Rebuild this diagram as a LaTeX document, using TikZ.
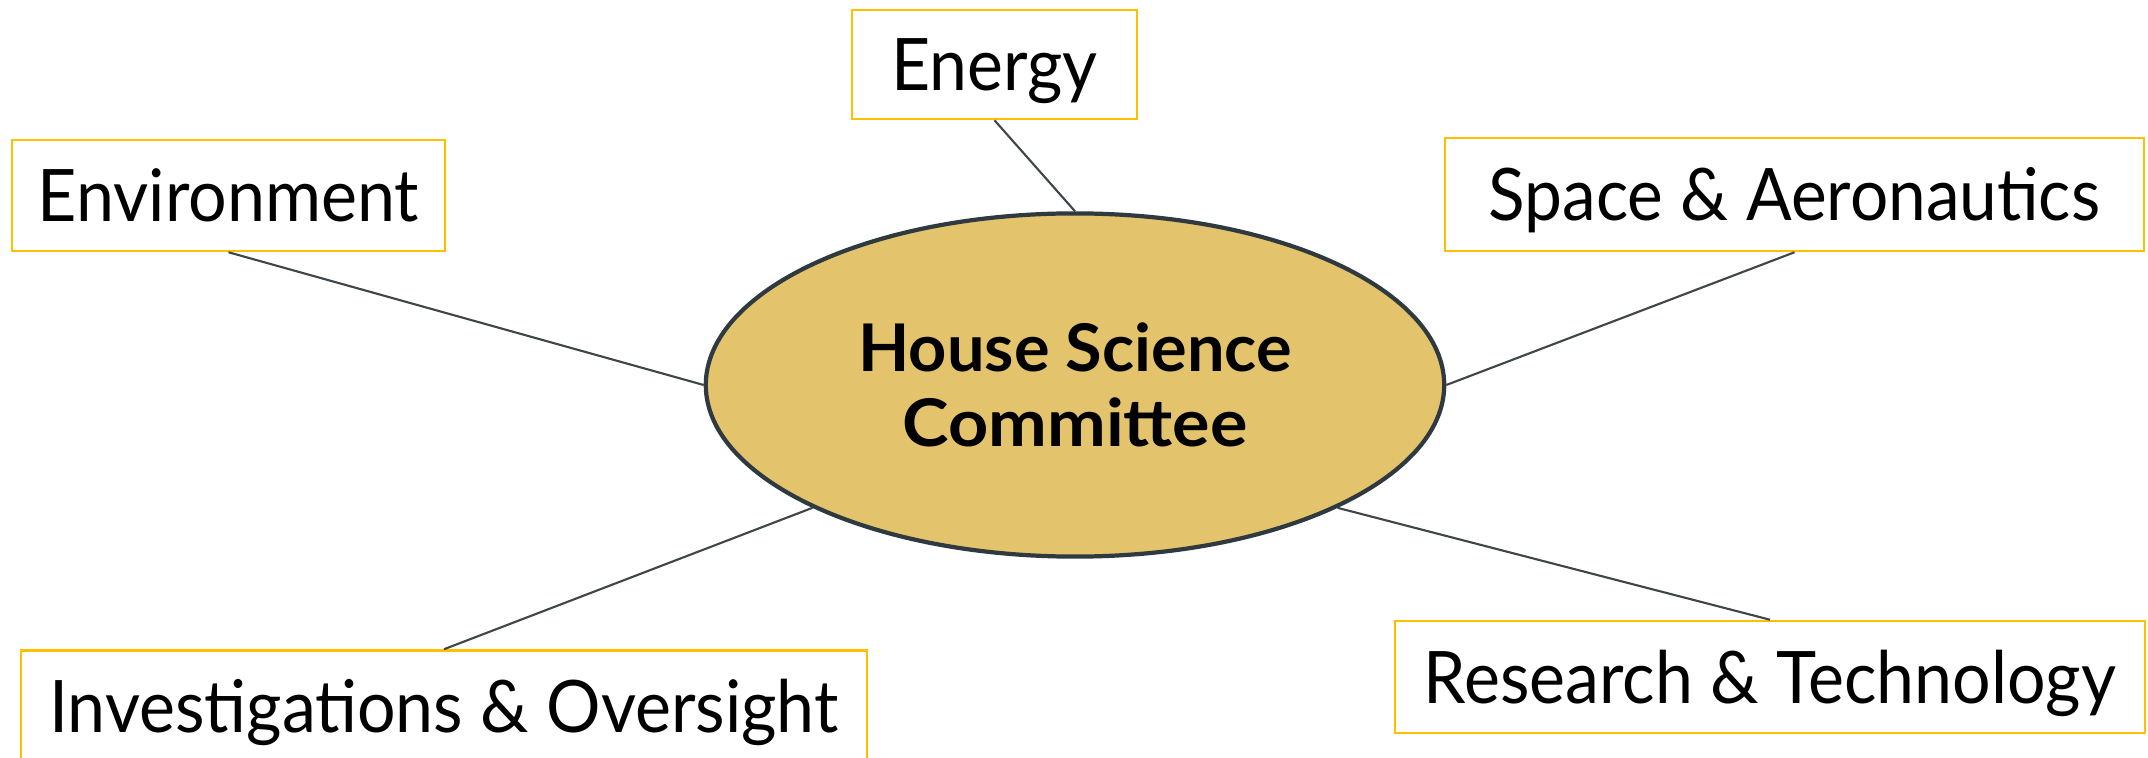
\documentclass[tikz,border=0pt]{standalone}
\usepackage{fontspec}
\setmainfont{Lato}
\usetikzlibrary{shapes.geometric}
\definecolor{boxgold}{HTML}{FFC000}
\definecolor{lobe}{HTML}{E4C36D}
\definecolor{rim}{HTML}{2F3A40}
\definecolor{wire}{HTML}{3F4549}
\newcommand{\fitto}[2]{\resizebox{#1}{\height}{#2}}

\begin{document}
\begin{tikzpicture}[x=0.01cm,y=-0.01cm]
  \useasboundingbox (0,0) rectangle (2148,758);

  \node (0) at (1075,385) [ellipse,draw=rim,line width=1.2pt,fill=lobe,
    minimum width=7.38cm,minimum height=3.43cm,inner sep=0] {};
  \node (t) at (1075,385) [align=center,
    font=\bfseries\fontsize{18.7pt}{21.3pt}\selectfont]
    {\fitto{4.33cm}{House Science}\\\fitto{3.45cm}{Committee}};

  \begin{scope}[every node/.style={rectangle,draw=boxgold,line width=0.7pt,
      inner sep=0,text height=0.72cm,text depth=0.2cm,
      font=\fontsize{20.6pt}{24pt}\selectfont}]
    \node (1) at (994.5,64.5)  [minimum width=2.85cm,minimum height=1.09cm] {\fitto{2.06cm}{Energy}};
    \node (2) at (228.5,195.5) [minimum width=4.33cm,minimum height=1.11cm] {\fitto{3.81cm}{Environment}};
    \node (3) at (1794.5,194.5)[minimum width=6.99cm,minimum height=1.13cm] {\fitto{6.11cm}{Space \& Aeronautics}};
    \node (4) at (444,706)     [minimum width=8.46cm,minimum height=1.11cm] {\fitto{7.89cm}{Investigations \& Oversight}\hspace{0.16cm}};
    \node (5) at (1770,677)    [minimum width=7.50cm,minimum height=1.12cm] {\fitto{6.92cm}{Research \& Technology}\hspace{0.08cm}};
  \end{scope}

  \begin{scope}[every edge/.style={draw=wire,line width=0.6pt}]
    \path (1.south) edge (0.north);
    \path (2.south) edge (0.west);
    \path (3.south) edge (0.east);
    \path (4.north) edge (0.south west);
    \path (5.north) edge (0.south east);
  \end{scope}

\end{tikzpicture}
\end{document}
